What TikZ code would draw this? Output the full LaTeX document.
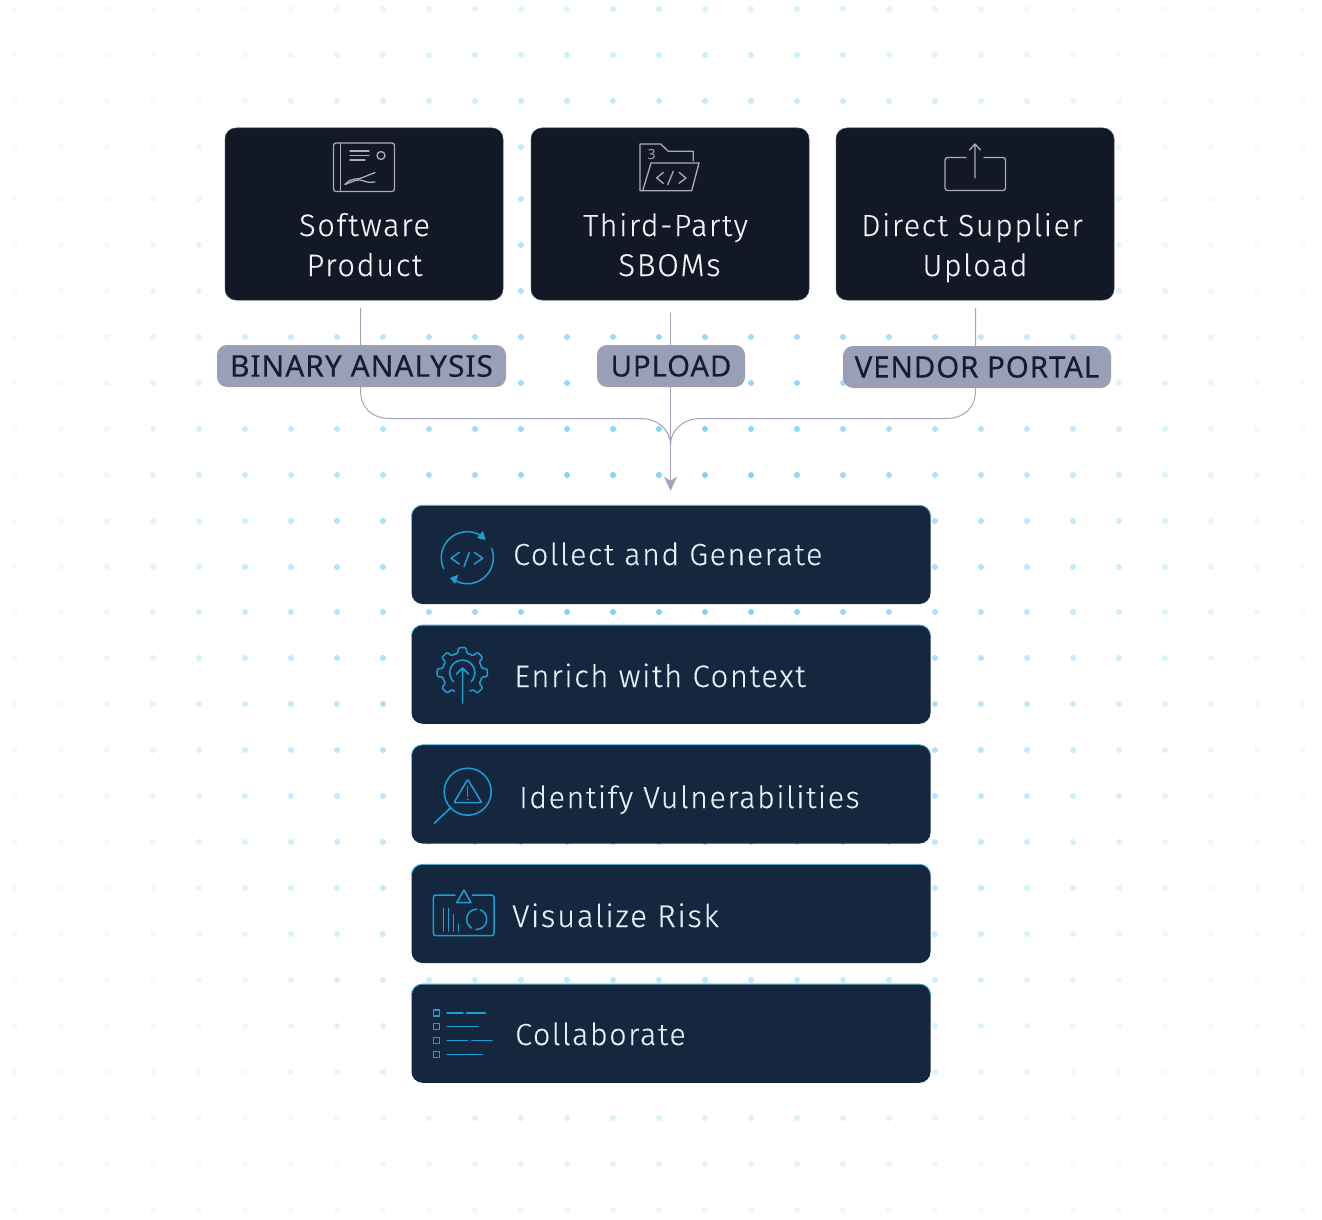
\documentclass[tikz,border=0pt]{standalone}
\usepackage{fontspec}
\newfontfamily\lightf{Fira Sans Light}[LetterSpace=5,FakeBold=0.25]
\newfontfamily\medf{Noto Sans}[LetterSpace=3,FakeBold=0.2]
\newfontfamily\numf{Open Sans}
\usetikzlibrary{arrows.meta}
\definecolor{topbox}{HTML}{131826}
\definecolor{stepfill}{HTML}{14273F}
\definecolor{stepedge}{HTML}{2A9FD0}
\definecolor{tagfill}{HTML}{9A9FB6}
\definecolor{tagtext}{HTML}{151B30}
\definecolor{wire}{HTML}{A3A5BB}
\definecolor{dotc}{HTML}{82D4F8}
\definecolor{iconA}{HTML}{A9ADBD}
\definecolor{iconB}{HTML}{1C9FD3}
\definecolor{titleA}{HTML}{F1F3F6}
\definecolor{titleB}{HTML}{E3F0F8}
\tikzset{
  x=1pt,y=-1pt,
  sourcebox/.style={draw=topbox!85!white,line width=.5pt,fill=topbox,rounded corners=11pt,minimum width=278pt,minimum height=172pt,inner sep=0pt},
  stepbox/.style={fill=stepfill,rounded corners=11pt,minimum width=519pt,minimum height=98.5pt,inner sep=0pt},
  tagbox/.style={fill=tagfill,rounded corners=10pt,minimum height=42pt,inner sep=0pt,font=\medf\fontsize{30}{30}\selectfont,text=tagtext},
  srclabel/.style={font=\lightf\fontsize{#1}{40}\selectfont,text=titleA,inner sep=0pt,text height=22pt,text depth=7pt},
  srclabel/.default=30.5,
  steplabel/.style={font=\lightf\fontsize{#1}{36}\selectfont,text=titleB,anchor=west,inner sep=0pt,text height=22pt,text depth=7pt},
  steplabel/.default=30.5,
  wireline/.style={draw=wire,line width=1pt},
  iconone/.style={draw=iconA,line width=1.3pt,line cap=round,line join=round},
  icontwo/.style={draw=iconB,line width=1.5pt,line cap=round,line join=round},
}
\begin{document}
\begin{tikzpicture}
\useasboundingbox (0,0) rectangle (1322,1220);
\fill[white] (0,0) rectangle (1322,1220);
% dots
\foreach \yy in {9,55,101,147,199,245,291,337,383,429,475,521,567,612,658,704,750,796,842,888,934,980,1026,1072,1118,1164,1210}{
  \foreach \xx in {15,61,...,1303}{
    \pgfmathsetmacro{\dd}{100*veclen((\xx-670)/100*1.1,(\yy-560)/100*0.95)}
    \pgfmathsetmacro{\pp}{max(9,min(100,118-0.16*\dd))}
    \fill[dotc!\pp!white] (\xx,\yy) circle (3pt);
  }
}
% steps
\node[stepbox] (s1) at (671,554.75) {};
\node[stepbox] (s2) at (671,674.5) {};
\node[stepbox] (s3) at (671,794.25) {};
\node[stepbox] (s4) at (671,913.75) {};
\node[stepbox] (s5) at (671,1033.5) {};
\foreach \n in {s1,s2,s3,s4,s5}{
  \draw[stepedge,line width=.8pt,rounded corners=11pt] ([xshift=-259.5pt,yshift=-11pt]\n.north) -- ([xshift=-259.5pt]\n.north) -- ([xshift=259.5pt]\n.north) -- ([xshift=259.5pt,yshift=-11pt]\n.north);
}
% connector anchors
\coordinate (c1) at (360.5,308);
\coordinate (c2) at (670.5,313);
\coordinate (c3) at (975.5,308);
\coordinate (mrg) at (670.5,445);
% connectors
\draw[wireline] (c1) -- (360.5,390) .. controls (360.5,408) and (372,418.5) .. (390,418.5) -- (640,418.5) .. controls (658,418.5) and (670.5,430) .. (mrg);
\draw[wireline] (c3) -- (975.5,390) .. controls (975.5,408) and (964,418.5) .. (946,418.5) -- (701,418.5) .. controls (683,418.5) and (670.5,430) .. (mrg);
\draw[wireline,-{Stealth[length=14pt,width=13pt,inset=4pt]},shorten >=14.5pt] (c2) -- (c2 |- s1.north);
% source boxes
\node[sourcebox] (soft) at (364,214) {};
\node[sourcebox] (third) at (670,214) {};
\node[sourcebox] (direct) at (975,214) {};
\node[srclabel=31] (softa) at (364.5,228.5) {Software};
\node[srclabel=31] (softb) at (364.5,268.5) {Product};
\node[srclabel] (thirda) at (665.5,228.5) {Third-Party};
\node[srclabel=31.5] (thirdb) at (669.5,268.5) {SBOMs};
\node[srclabel] (directa) at (972,228.5) {Direct Supplier};
\node[srclabel] (directb) at (975,268.5) {Upload};
% tags
\node[tagbox,minimum width=289pt] (tagA) at (361.5,366) {\raisebox{-4pt}{BINARY ANALYSIS}};
\node[tagbox,minimum width=148pt,font=\medf\fontsize{29.3}{30}\selectfont] (tagB) at (671,366) {\raisebox{-3pt}{UPLOAD}};
\node[tagbox,minimum width=268pt,font=\medf\fontsize{29.5}{30}\selectfont] (tagC) at (977,367) {\raisebox{-3pt}{VENDOR PORTAL}};
% step labels
\node[steplabel] (t1) at (513,557.5) {Collect and Generate};
\node[steplabel=31.1] (t2) at (514,679.5) {Enrich with Context};
\node[steplabel] (t3) at (519,800.5) {Identify Vulnerabilities};
\node[steplabel=31.4] (t4) at (512,919.5) {Visualize Risk};
\node[steplabel] (t5) at (515,1037.5) {Collaborate};
% icon software
\draw[iconone,rounded corners=2.5pt] (333.5,143) rectangle (394.5,191.5);
\draw[iconone] (340.5,143) -- (340.5,191.5);
\draw[iconone] (350,151) -- (369,151) (350,155.5) -- (369,155.5) (350,160) -- (365,160);
\draw[iconone] (381,155.5) circle (4pt);
\draw[iconone] (345,184.5) .. controls (352,176) and (358,181) .. (364,177) .. controls (368,175) and (372,174) .. (375,172.5);
\draw[iconone] (345,184.5) .. controls (352,182) and (358,178) .. (364,181) .. controls (368,183) and (372,182) .. (375,182);
% icon folder
\draw[iconone] (642.7,190.7) -- (640,190.7) -- (640,144) -- (660.7,144) -- (668.3,151.3) -- (693.3,151.3) -- (693.3,160.7);
\draw[iconone] (642.7,190.7) -- (651,163) -- (699,163) -- (691.7,190.7) -- cycle;
\node[text=iconA,font=\numf\fontsize{14}{14}\selectfont,inner sep=0pt] (fnum) at (651.7,154.7) {3};
\draw[iconone] (663.3,172.3) -- (656.7,178) -- (663.3,183.3) (673.3,171.3) -- (667.7,184.7) (679,172.3) -- (686,178) -- (679,183.3);
% icon upload
\draw[iconone,rounded corners=2.5pt] (966,157.5) -- (945,157.5) -- (945,190.5) -- (1005.5,190.5) -- (1005.5,157.5) -- (984,157.5);
\draw[iconone] (975,178) -- (975,144) (969.5,150) -- (975,144) -- (980.5,150);
% icon collect
\draw[icontwo] plot[domain=155:300,samples=40] ({467.3+26*cos(\x)},{557.7+26*sin(\x)});
\draw[icontwo] plot[domain=-20:125,samples=40] ({467.3+26*cos(\x)},{557.7+26*sin(\x)});
\fill[iconB] (485.7,540) -- (477,538) -- (483,531) -- cycle;
\fill[iconB] (450,578) -- (458.5,574.5) -- (455,584) -- cycle;
\draw[icontwo] (459.3,552.3) -- (451,558.3) -- (459.3,564) (469.3,552.3) -- (464,566.7) (474.3,552.3) -- (482.7,558.3) -- (474.3,564);
% icon gear
\foreach \a in {0,45,135,180,225,315,270}{
  \draw[icontwo,rounded corners=1.5pt]
    ({462.3+20*cos(\a-22.5)},{672.7+20*sin(\a-22.5)}) --
    ({462.3+20*cos(\a-12)},{672.7+20*sin(\a-12)}) --
    ({462.3+25.5*cos(\a-9)},{672.7+25.5*sin(\a-9)}) --
    ({462.3+25.5*cos(\a+9)},{672.7+25.5*sin(\a+9)}) --
    ({462.3+20*cos(\a+12)},{672.7+20*sin(\a+12)}) --
    ({462.3+20*cos(\a+22.5)},{672.7+20*sin(\a+22.5)});
}
\draw[icontwo] plot[domain=-225:45,samples=50] ({462.3+12.5*cos(\x)},{672.7+12.5*sin(\x)});
\draw[icontwo] (462.5,703) -- (462.5,668) (456.5,674) -- (462.5,668) -- (468.5,674);
% icon identify
\draw[icontwo] (467.7,791.7) circle (23.5pt);
\draw[icontwo] (450,808.3) -- (434.3,823.3);
\draw[icontwo,rounded corners=1pt] (467.7,779.3) -- (481.7,802.7) -- (454,802.7) -- cycle;
\draw[icontwo] (467.7,786.7) -- (467.7,796);
\fill[iconB] (467.7,799.3) circle (1pt);
% icon visualize
\draw[icontwo,rounded corners=2.5pt] (455,895) -- (433.3,895) -- (433.3,935.7) -- (494,935.7) -- (494,895) -- (472.3,895);
\draw[icontwo] (464,890) -- (471,902.7) -- (456.7,902.7) -- cycle;
\draw[icontwo] (443.3,931) -- (443.3,908.3) (448.3,931) -- (448.3,908.3) (453.3,931) -- (453.3,914.3) (458.3,931) -- (458.3,924.3);
\draw[icontwo] plot[domain=-70:95,samples=30] ({476.7+10*cos(\x)},{919.3+10*sin(\x)});
\draw[icontwo] plot[domain=120:270,samples=30] ({476.7+10*cos(\x)},{919.3+10*sin(\x)});
% icon collaborate
\foreach \yy in {1013,1026.7,1040.7,1054.7}{
  \draw[iconB,line width=1.3pt] (433.3,\yy-3) rectangle (439.7,\yy+3);
}
\draw[icontwo] (447,1013) -- (463,1013) (466.7,1013) -- (485.3,1013);
\draw[icontwo] (447,1026.7) -- (478,1026.7);
\draw[icontwo] (447,1040.7) -- (467.7,1040.7) (471.7,1040.7) -- (492,1040.7);
\draw[icontwo] (447,1054.7) -- (482.3,1054.7);
\end{tikzpicture}
\end{document}
